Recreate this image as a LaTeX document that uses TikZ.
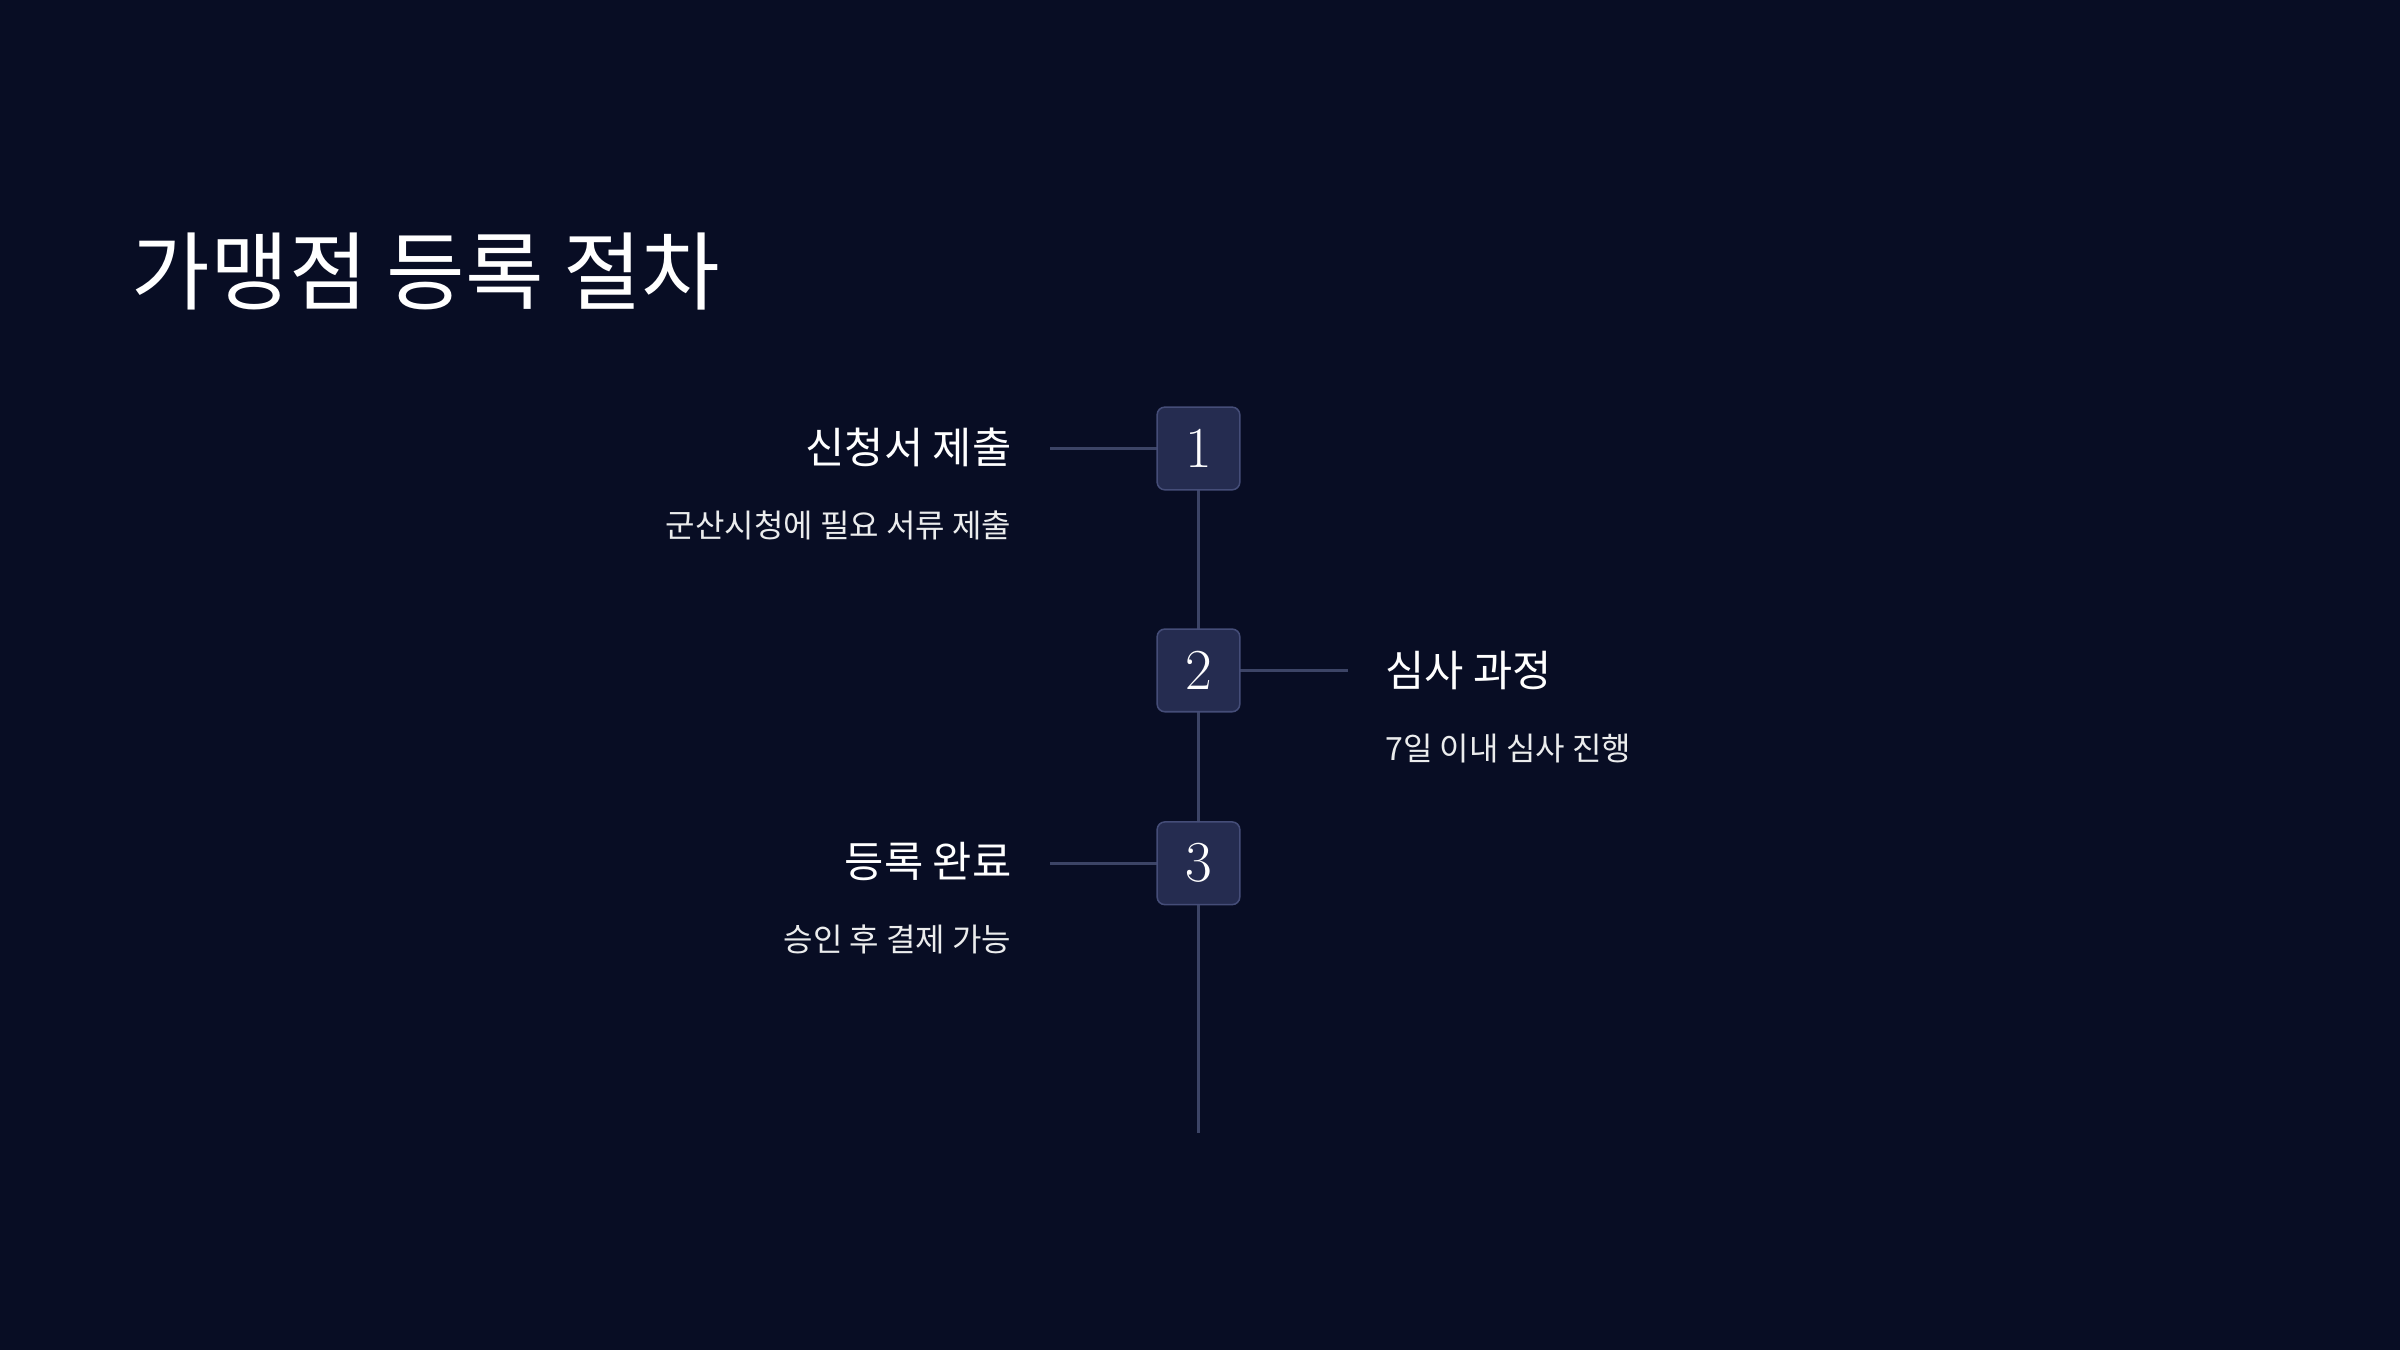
\documentclass[tikz,border=0pt]{standalone}
\usepackage{fontspec}
\newfontfamily\kr{Noto Sans CJK KR}
\definecolor{bg}{HTML}{080D24}
\definecolor{boxfill}{HTML}{252C50}
\definecolor{boxline}{HTML}{454D78}
\definecolor{conn}{HTML}{3C4466}
\begin{document}
\begin{tikzpicture}[x=1bp,y=-1bp,
  stepbox/.style={draw=boxline,fill=boxfill,rounded corners=5bp,minimum size=54bp,inner sep=0pt,line width=1bp,text=white,font=\fontsize{38}{40}\selectfont},
  conline/.style={draw=conn,line width=2bp},
  head/.style={text=white,font=\kr\fontsize{28}{32}\selectfont,inner sep=0pt},
  sub/.style={text=white!92!bg,font=\kr\fontsize{21}{25}\selectfont,inner sep=0pt}]
\fill[bg] (0,0) rectangle (1568,882);
\useasboundingbox (0,0) rectangle (1568,882);
\node[anchor=base west,text=white,font=\kr\fontsize{56}{60}\selectfont,inner sep=0pt] (title) at (86,198) {가맹점 등록 절차};
\coordinate (bot) at (783,740);
\coordinate (p1) at (783,293);
\coordinate (p2) at (783,438);
\coordinate (p3) at (783,564);
\draw[conline] (p1) -- (bot);
\coordinate (c1) at (686,293);
\coordinate (c2) at (881,438);
\coordinate (c3) at (686,564);
\draw[conline] (p1) -- (c1);
\draw[conline] (p2) -- (c2);
\draw[conline] (p3) -- (c3);
\node[stepbox] (s1) at (p1) {1};
\node[stepbox] (s2) at (p2) {2};
\node[stepbox] (s3) at (p3) {3};
\node[head,anchor=east] (h1) at (661,292) {신청서 제출};
\node[sub,anchor=east] (d1) at (661,343) {군산시청에 필요 서류 제출};
\node[head,anchor=west] (h2) at (905,438) {심사 과정};
\node[sub,anchor=west] (d2) at (905,489) {7일 이내 심사 진행};
\node[head,anchor=east] (h3) at (661,563) {등록 완료};
\node[sub,anchor=east] (d3) at (661,614) {승인 후 결제 가능};
\end{tikzpicture}
\end{document}
